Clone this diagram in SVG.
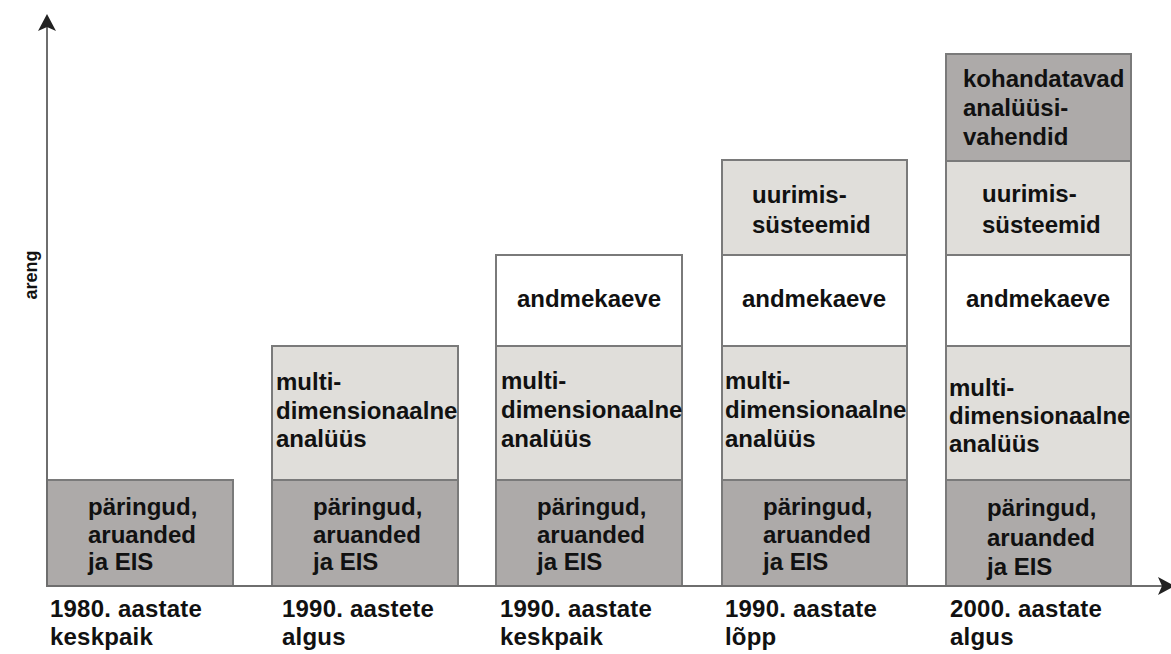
<svg xmlns="http://www.w3.org/2000/svg" width="1171" height="654" viewBox="0 0 1171 654">
<style>
text{font-family:"Liberation Sans",Arial,sans-serif;font-weight:bold;fill:#111}
.t{font-size:24px}
.lab{font-size:24px;letter-spacing:0.2px}
.ax{font-size:18px}
.dark{fill:#adaaa9;stroke:#7a7a7a;stroke-width:2}
.light{fill:#e0deda;stroke:#7a7a7a;stroke-width:2}
.white{fill:#ffffff;stroke:#7a7a7a;stroke-width:2}
.axis{stroke:#6e6e6e;stroke-width:2;fill:none}
.head{fill:#222}
</style>
<rect width="1171" height="654" fill="#ffffff"/>

<g id="col1">
<g id="c1-paringud"><rect class="dark" x="47" y="480" width="186" height="106"/>
<text class="t" x="88" y="515">päringud,</text><text class="t" x="88" y="543">aruanded</text><text class="t" x="88" y="570">ja EIS</text></g>
</g>

<g id="col2">
<g id="c2-paringud"><rect class="dark" x="272" y="480" width="186" height="106"/>
<text class="t" x="313" y="515">päringud,</text><text class="t" x="313" y="543">aruanded</text><text class="t" x="313" y="570">ja EIS</text></g>
<g id="c2-multi"><rect class="light" x="272" y="346" width="186" height="134"/>
<text class="t" x="276" y="390">multi-</text><text class="t" x="276" y="419">dimensionaalne</text><text class="t" x="276" y="447">analüüs</text></g>
</g>

<g id="col3">
<g id="c3-paringud"><rect class="dark" x="496" y="480" width="186" height="106"/>
<text class="t" x="537" y="515">päringud,</text><text class="t" x="537" y="543">aruanded</text><text class="t" x="537" y="570">ja EIS</text></g>
<g id="c3-multi"><rect class="light" x="496" y="346" width="186" height="134"/>
<text class="t" x="501" y="389">multi-</text><text class="t" x="501" y="418">dimensionaalne</text><text class="t" x="501" y="447">analüüs</text></g>
<g id="c3-andmekaeve"><rect class="white" x="496" y="255" width="186" height="91"/>
<text class="t" x="589" y="307" text-anchor="middle">andmekaeve</text></g>
</g>

<g id="col4">
<g id="c4-paringud"><rect class="dark" x="722" y="480" width="185" height="106"/>
<text class="t" x="763" y="515">päringud,</text><text class="t" x="763" y="543">aruanded</text><text class="t" x="763" y="570">ja EIS</text></g>
<g id="c4-multi"><rect class="light" x="722" y="346" width="185" height="134"/>
<text class="t" x="725" y="389">multi-</text><text class="t" x="725" y="418">dimensionaalne</text><text class="t" x="725" y="447">analüüs</text></g>
<g id="c4-andmekaeve"><rect class="white" x="722" y="255" width="185" height="91"/>
<text class="t" x="814" y="307" text-anchor="middle">andmekaeve</text></g>
<g id="c4-uurimis"><rect class="light" x="722" y="160" width="185" height="95"/>
<text class="t" x="752" y="203">uurimis-</text><text class="t" x="752" y="233">süsteemid</text></g>
</g>

<g id="col5">
<g id="c5-paringud"><rect class="dark" x="946" y="480" width="185" height="106"/>
<text class="t" x="987" y="516">päringud,</text><text class="t" x="987" y="546">aruanded</text><text class="t" x="987" y="575">ja EIS</text></g>
<g id="c5-multi"><rect class="light" x="946" y="346" width="185" height="134"/>
<text class="t" x="949" y="396">multi-</text><text class="t" x="949" y="424">dimensionaalne</text><text class="t" x="949" y="452">analüüs</text></g>
<g id="c5-andmekaeve"><rect class="white" x="946" y="255" width="185" height="91"/>
<text class="t" x="1038" y="307" text-anchor="middle">andmekaeve</text></g>
<g id="c5-uurimis"><rect class="light" x="946" y="161" width="185" height="94"/>
<text class="t" x="982" y="202">uurimis-</text><text class="t" x="982" y="233">süsteemid</text></g>
<g id="c5-kohandatavad"><rect class="dark" x="946" y="54" width="185" height="107"/>
<text class="t" x="963" y="87">kohandatavad</text><text class="t" x="963" y="116">analüüsi-</text><text class="t" x="963" y="145">vahendid</text></g>
</g>

<g id="connectors">
<line class="axis" x1="47" y1="587" x2="47" y2="26"/>
<polygon class="head" points="47,14 56,31 47,27 38,31"/>
<line class="axis" x1="47" y1="586" x2="1162" y2="586"/>
<polygon class="head" points="1175,586 1158,577 1162,586 1158,595"/>
</g>

<g id="labels">
<text class="ax" transform="translate(37,275) rotate(-90)" text-anchor="middle">areng</text>
<text class="lab" x="50" y="617">1980. aastate</text><text class="lab" x="50" y="645">keskpaik</text>
<text class="lab" x="282" y="617">1990. aastete</text><text class="lab" x="282" y="645">algus</text>
<text class="lab" x="500" y="617">1990. aastate</text><text class="lab" x="500" y="645">keskpaik</text>
<text class="lab" x="725" y="617">1990. aastate</text><text class="lab" x="725" y="645">lõpp</text>
<text class="lab" x="950" y="617">2000. aastate</text><text class="lab" x="950" y="645">algus</text>
</g>
</svg>
